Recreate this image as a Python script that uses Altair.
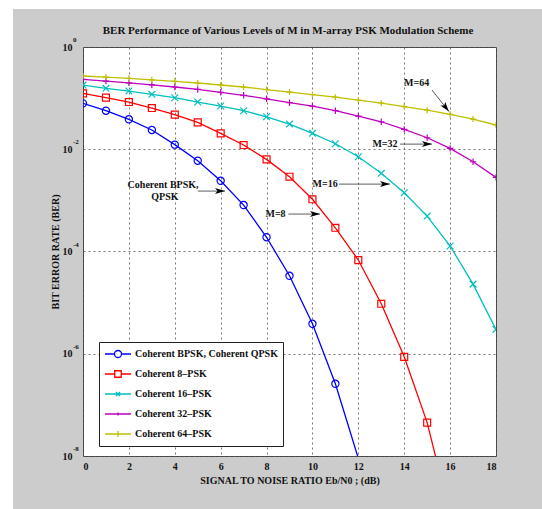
import altair as alt
import pandas as pd

# ---------------- data ----------------
snr_db = list(range(0, 19))

series_names = [
    "Coherent BPSK, Coherent QPSK",
    "Coherent 8–PSK",
    "Coherent 16–PSK",
    "Coherent 32–PSK",
    "Coherent 64–PSK",
]

ber_bpsk = [0.079, 0.0567, 0.0385, 0.0238, 0.0123, 0.00596, 0.00242, 8.1e-4,
            1.9e-4, 3.35e-5, 3.85e-6, 2.58e-7, 9.0e-9]
ber_8psk = [0.124, 0.102, 0.0839, 0.064, 0.0474, 0.0336, 0.0205, 0.0121,
            0.00634, 0.0029, 0.00105, 2.91e-4, 6.8e-5, 9.5e-6, 8.7e-7, 4.5e-8, 7e-10]
ber_16psk = [0.180, 0.1555, 0.1377, 0.1187, 0.1018, 0.0839, 0.070, 0.0567,
             0.0432, 0.0311, 0.0205, 0.0128, 0.00713, 0.00338, 0.00141,
             4.93e-4, 1.28e-4, 2.3e-5, 3.0e-6]
ber_32psk = [0.233, 0.216, 0.199, 0.182, 0.165, 0.148, 0.130, 0.1135, 0.0969,
             0.0813, 0.070, 0.0567, 0.0446, 0.0345, 0.0245, 0.0168, 0.0104,
             0.00569, 0.00282]
ber_64psk = [0.271, 0.2566, 0.2429, 0.228, 0.2133, 0.1975, 0.1805, 0.1649,
             0.1473, 0.1316, 0.1176, 0.1042, 0.0918, 0.0802, 0.0685, 0.058,
             0.0482, 0.039, 0.0298]

all_ber = [ber_bpsk, ber_8psk, ber_16psk, ber_32psk, ber_64psk]

# y tick values and their exponents
y_ticks = [1e-8, 1e-6, 1e-4, 1e-2, 1.0]
y_exps = ["-8", "-6", "-4", "-2", "0"]
x_ticks = list(range(0, 19, 2))

chart_title = "BER Performance of Various Levels of M in M-array PSK Modulation Scheme"

# annotations (data coordinates)
ann_text = ["Coherent BPSK,", "QPSK", "M=8", "M=16", "M=32", "M=64"]
ann_x = [3.49, 3.57, 8.39, 10.55, 13.16, 14.54]
ann_y = [2.0e-3, 1.16e-3, 5.4e-4, 2.08e-3, 1.26e-2, 0.197]

arrow_x1 = [5.0, 8.95, 11.16, 13.82, 15.21]
arrow_x2 = [6.19, 10.33, 13.38, 15.21, 15.95]
arrow_y1 = [1.52e-3, 5.4e-4, 2.08e-3, 1.26e-2, 0.144]
arrow_y2 = [1.52e-3, 5.4e-4, 2.08e-3, 1.26e-2, 0.0547]
arrow_angle = [0, 0, 0, 0, 52]

# ---------------- styles ----------------
colors = ["#0000ff", "#ff0000", "#00bfbf", "#bf00bf", "#bfbf00"]
marker_paths = [
    "circle",
    "square",
    "M-1,-1L1,1M-1,1L1,-1",
    "M-1,0L1,0M0,-1L0,1",
    "M-1,0L1,0M0,-1L0,1",
]
marker_sizes = [52, 38, 20, 10, 40]
legend_paths = [
    "M-1,0L-0.27,0M0.27,0L1,0M-0.27,0A0.27,0.27 0 1,0 0.27,0A0.27,0.27 0 1,0 -0.27,0",
    "M-1,0L-0.25,0M0.25,0L1,0M-0.25,-0.25L0.25,-0.25L0.25,0.25L-0.25,0.25Z",
    "M-1,0L1,0M-0.16,-0.16L0.16,0.16M-0.16,0.16L0.16,-0.16",
    "M-1,0L1,0M0,-0.12L0,0.12",
    "M-1,0L1,0M0,-0.24L0,0.24",
]
FONT = "Liberation Serif"

rows = []
for name, vals in zip(series_names, all_ber):
    for s, b in zip(snr_db, vals):
        rows.append({"series": name, "snr": s, "ber": b})
df = pd.DataFrame(rows)
df_pts = df[df["ber"] >= 1e-8]

ann_df = pd.DataFrame({"text": ann_text, "x": ann_x, "y": ann_y})
arr_df = pd.DataFrame({"x1": arrow_x1, "x2": arrow_x2, "y1": arrow_y1,
                       "y2": arrow_y2, "ang": arrow_angle})
exp_df = pd.DataFrame({"v": y_ticks, "e": y_exps})

xs = alt.Scale(domain=[0, 18], nice=False, zero=False)
ys = alt.Scale(type="log", domain=[1e-8, 1], nice=False)

xaxis = alt.Axis(
    title="SIGNAL TO NOISE RATIO Eb/N0 ; (dB)", values=x_ticks,
    grid=True, gridDash=[2, 3], gridColor="#555", gridWidth=0.8, gridOpacity=1,
    ticks=False, domain=False, labelFont=FONT, labelFontWeight="bold",
    labelFontSize=10, labelColor="#111", labelPadding=5,
    titleFont=FONT, titleFontWeight="bold", titleFontSize=10, titleColor="#111",
    titlePadding=4,
)
yaxis = alt.Axis(
    title="BIT ERROR RATE (BER)", values=y_ticks,
    labelExpr="'10'",
    grid=True, gridDash=[2, 3], gridColor="#555", gridWidth=0.8, gridOpacity=1,
    ticks=False, domain=False, labelFont=FONT, labelFontWeight="bold",
    labelFontSize=10, labelColor="#111", labelPadding=11,
    titleFont=FONT, titleFontWeight="bold", titleFontSize=10, titleColor="#111",
    titlePadding=2,
)


def X(f):
    return alt.X(f, type="quantitative", scale=xs, axis=xaxis)


def Y(f):
    return alt.Y(f, type="quantitative", scale=ys, axis=yaxis)


cscale = alt.Scale(domain=series_names, range=colors)

one = pd.DataFrame({"k": [0], "t": [chart_title]})
strip_left = alt.Chart(one).mark_rect(color="white", clip=False).encode(
    x=alt.value(-83), x2=alt.value(-70), y=alt.value(-47), y2=alt.value(462))
strip_top = alt.Chart(one).mark_rect(color="white", clip=False).encode(
    x=alt.value(-83), x2=alt.value(459), y=alt.value(-47), y2=alt.value(-38))
title_mark = alt.Chart(one).mark_text(
    font=FONT, fontWeight="bold", fontSize=11, color="#111",
    align="center", baseline="middle").encode(
    x=alt.value(205), y=alt.value(-16), text="t:N")

exps = alt.Chart(exp_df).mark_text(
    font=FONT, fontWeight="bold", fontSize=7, color="#111",
    align="left", baseline="middle", dy=-7).encode(
    x=alt.value(-10), y=Y("v"), text="e:N")

lines = alt.Chart(df).mark_line(strokeWidth=1.3, clip=True).encode(
    x=X("snr"), y=Y("ber"),
    color=alt.Color("series:N", scale=cscale, legend=None),
    order="snr:Q",
)

points = alt.Chart(df_pts).mark_point(filled=False, strokeWidth=1.2, opacity=1, clip=True).encode(
    x=X("snr"), y=Y("ber"),
    color=alt.Color("series:N", scale=cscale, legend=None),
    shape=alt.Shape("series:N", scale=alt.Scale(domain=series_names, range=marker_paths), legend=None),
    size=alt.Size("series:N", scale=alt.Scale(domain=series_names, range=marker_sizes), legend=None),
)

leg = alt.Legend(
    title=None, orient="none", legendX=16, legendY=295,
    symbolSize=676, symbolStrokeWidth=1.3, symbolOpacity=1,
    symbolFillColor="transparent",
    labelFont=FONT, labelFontWeight="bold", labelFontSize=10, labelColor="#111",
    labelOffset=3, fillColor="white", strokeColor="#222", padding=5,
    clipHeight=14, rowPadding=6, cornerRadius=0,
)
legend_layer = alt.Chart(df_pts).mark_point(filled=False, opacity=0, clip=True).encode(
    x=X("snr"), y=Y("ber"),
    color=alt.Color("series:N", scale=cscale, legend=leg),
    shape=alt.Shape("series:N", scale=alt.Scale(domain=series_names, range=legend_paths), legend=leg),
)

arrows = alt.Chart(arr_df).mark_rule(color="#333", strokeWidth=0.8).encode(
    x=X("x1"), x2="x2:Q", y=Y("y1"), y2="y2:Q")
heads = alt.Chart(arr_df).mark_point(
    filled=True, color="black", size=100, opacity=1,
    shape="M0,0L-2,-0.6L-1.5,0L-2,0.6Z").encode(
    x=X("x2"), y=Y("y2"), angle=alt.Angle("ang:Q", scale=None))
texts = alt.Chart(ann_df).mark_text(
    font=FONT, fontWeight="bold", fontSize=10, color="#111",
    align="center", baseline="middle").encode(
    x=X("x"), y=Y("y"), text="text:N")

chart = alt.layer(
    strip_left, strip_top, title_mark, exps, lines, points, legend_layer,
    arrows, heads, texts
).resolve_scale(
    color="independent", shape="independent", size="independent"
).properties(
    width=413, height=409,
    padding={"left": 83, "top": 47, "right": 46, "bottom": 53},
    autosize=alt.AutoSizeParams(type="none"),
).configure(
    background="#cccccc",
).configure_view(
    fill="white", stroke="#444", strokeWidth=1,
)

chart.save("out.html", embed_options={"renderer": "svg", "actions": False})
